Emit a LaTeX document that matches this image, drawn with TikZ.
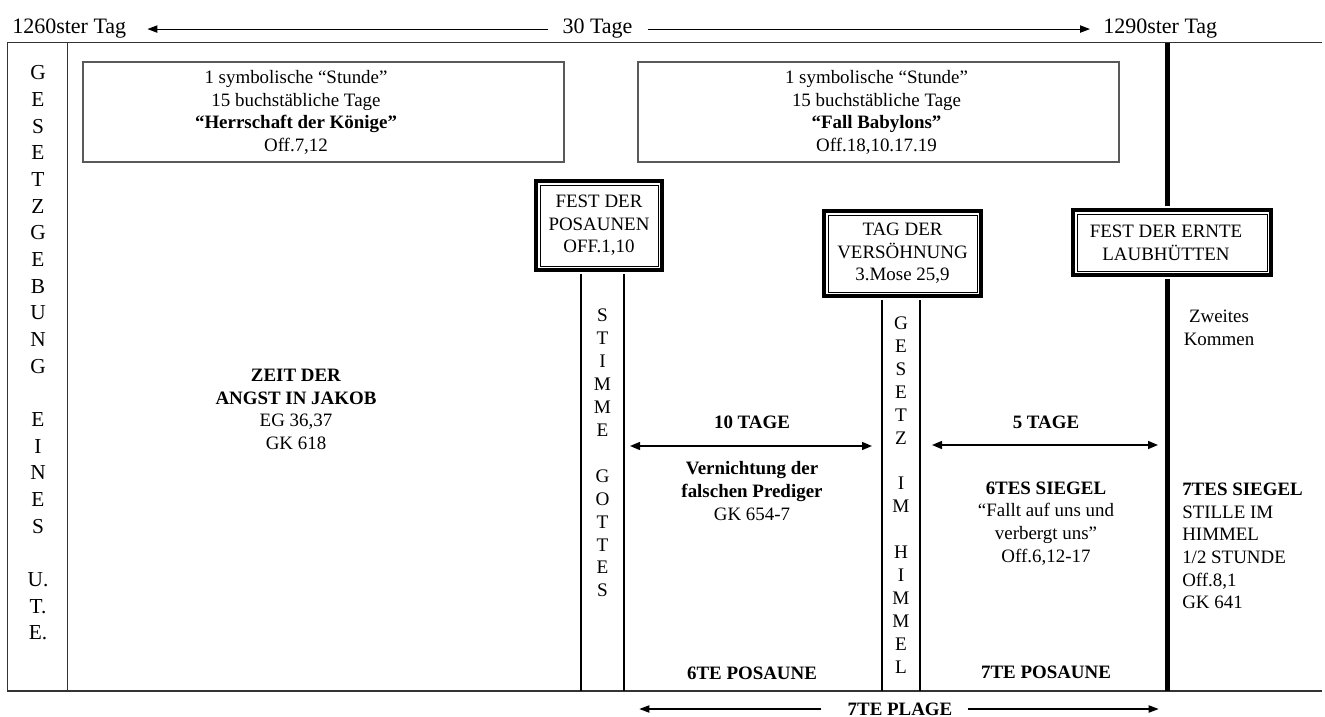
\documentclass[tikz,border=0pt]{standalone}
\usepackage{fontspec}
\setmainfont{Liberation Serif}
\usetikzlibrary{arrows.meta,calc}
\newcommand\pxu{0.75pt}
\begin{document}
\begin{tikzpicture}[x=0.75pt,y=-0.75pt,
  txt/.style={inner sep=0pt, align=center, font=\fontsize{14.2}{17}\selectfont},
  hdr/.style={inner sep=0pt, font=\fontsize{16.5}{20}\selectfont},
  colfont/.style={inner sep=0pt, align=center, font=\fontsize{16}{20}\selectfont},
  stemfont/.style={inner sep=0pt, align=center, font=\fontsize{14.4}{17.2}\selectfont},
  rulel/.style={line width=1.1pt, black!80},
  sbox/.style={draw=black!65, line width=0.9pt, inner sep=0pt},
  fest/.style={draw, line width=3pt, inner sep=0pt, align=center, font=\fontsize{14.2}{17}\selectfont},
  innerbox/.style={line width=0.75pt},
  stemln/.style={line width=1.1pt},
  thickln/.style={line width=3.75pt},
  darrow/.style={line width=1.1pt, {Triangle[length=7.5pt,width=6pt]}-{Triangle[length=7.5pt,width=6pt]}},
  sarrow/.style={line width=0.8pt, -{Triangle[length=7.5pt,width=5.5pt]}}
]
\useasboundingbox (0,0) rectangle (1325,717);

% header
\node[hdr, anchor=base west] (d1260) at (12,34) {1260ster Tag};
\node[hdr, anchor=base] (t30) at (597.5,34) {30 Tage};
\node[hdr, anchor=base west] (d1290) at (1103,34) {1290ster Tag};
\draw[sarrow] ([xshift=-14*\pxu]t30.west) -- ([xshift=21*\pxu]d1260.east);
\draw[sarrow] ([xshift=15*\pxu]t30.east) -- ([xshift=-13*\pxu]d1290.west);

% frame lines
\coordinate (tl) at (7,42.7);
\coordinate (tr) at (1322,42.7);
\coordinate (bl) at (7,691);
\coordinate (br) at (1322,691);
\draw[rulel] (tl) -- (tr);
\draw[rulel] (bl) -- (br);
\coordinate (c1) at (7.5,0);
\coordinate (c2) at (67.5,0);
\draw[rulel] (c1 |- tl) -- (c1 |- bl);
\draw[rulel] (c2 |- tl) -- (c2 |- bl);

% left column
\node[colfont] (lcol) at (38,353) {G\\E\\S\\E\\T\\Z\\G\\E\\B\\U\\N\\G\\\mbox{}\\E\\I\\N\\E\\S\\\mbox{}\\U.\\T.\\E.};

% top boxes
\node[sbox, minimum width=481*\pxu, minimum height=100*\pxu] (box1) at (323.5,112) {};
\node[txt] (box1t) at (296,112.5) {1 symbolische “Stunde”\\15 buchstäbliche Tage\\\textbf{“Herrschaft der Könige”}\\Off.7,12};
\node[sbox, minimum width=481*\pxu, minimum height=100*\pxu] (box2) at (878.5,112) {};
\node[txt] (box2t) at (876.5,112.5) {1 symbolische “Stunde”\\15 buchstäbliche Tage\\\textbf{“Fall Babylons”}\\Off.18,10.17.19};

% feast boxes
\node[fest, minimum width=126*\pxu, minimum height=89*\pxu] (posaunen) at (599,225.5) {FEST DER\\POSAUNEN\\OFF.1,10};
\draw[innerbox] ($(posaunen.north west)+(6,6)$) rectangle ($(posaunen.south east)+(-6,-6)$);
\node[fest, minimum width=157*\pxu, minimum height=85*\pxu] (tag) at (902.5,253.5) {TAG DER\\VERSÖHNUNG\\3.Mose 25,9};
\draw[innerbox] ($(tag.north west)+(6,6)$) rectangle ($(tag.south east)+(-6,-6)$);
\node[fest, minimum width=198*\pxu, minimum height=65*\pxu] (ernte) at (1172,242.5) {FEST DER ERNTE\hspace*{9pt}\\LAUBHÜTTEN\hspace*{9pt}};
\draw[innerbox] ($(ernte.north west)+(6,6)$) rectangle ($(ernte.south east)+(-6,-6)$);

% stems
\coordinate (s1l) at (581,0);
\coordinate (s1r) at (624,0);
\coordinate (s2l) at (882,0);
\coordinate (s2r) at (920,0);
\draw[stemln] ([yshift=-1.5pt]posaunen.south -| s1l) -- (s1l |- bl);
\draw[stemln] ([yshift=-1.5pt]posaunen.south -| s1r) -- (s1r |- bl);
\draw[stemln] ([yshift=-1.5pt]tag.south -| s2l) -- (s2l |- bl);
\draw[stemln] ([yshift=-1.5pt]tag.south -| s2r) -- (s2r |- bl);
\node[stemfont] (stimme) at (602.5,453) {S\\T\\I\\M\\M\\E\\\mbox{}\\G\\O\\T\\T\\E\\S};
\node[stemfont] (himmel) at (901,495) {G\\E\\S\\E\\T\\Z\\\mbox{}\\I\\M\\\mbox{}\\H\\I\\M\\M\\E\\L};

% thick line
\coordinate (tk) at (1167.5,0);
\draw[thickln] (tk |- tl) -- ([yshift=1.5pt]ernte.north -| tk);
\draw[thickln] ([yshift=-1.5pt]ernte.south -| tk) -- (tk |- bl);

% region texts
\node[txt] (zeit) at (296,409.5) {\textbf{ZEIT DER}\\\textbf{ANGST IN JAKOB}\\EG 36,37\\GK 618};
\node[txt] (t10) at (752,422) {\textbf{10 TAGE}};
\coordinate (a10l) at (630,446);
\coordinate (a10r) at (872,446);
\draw[darrow] (a10l) -- (a10r);
\node[txt] (vern) at (752,491) {\textbf{Vernichtung der}\\\textbf{falschen Prediger}\\GK 654-7};
\node[txt] (pos6) at (752,673) {\textbf{6TE POSAUNE}};

\node[txt] (t5) at (1046,422) {\textbf{5 TAGE}};
\coordinate (a5l) at (932,445);
\coordinate (a5r) at (1158,445);
\draw[darrow] (a5l) -- (a5r);
\node[txt] (sieg6) at (1046,523.5) {\textbf{6TES SIEGEL}\\“Fallt auf uns und\\verbergt uns”\\Off.6,12-17};
\node[txt] (pos7) at (1046,672) {\textbf{7TE POSAUNE}};

\node[txt] (zweit) at (1219,327.5) {Zweites\\Kommen};
\node[txt, align=left, anchor=west] (sieg7) at (1182,546) {\textbf{7TES SIEGEL}\\STILLE IM\\HIMMEL\\1/2 STUNDE\\Off.8,1\\GK 641};

% bottom plague arrow
\node[txt] (plage) at (900,709) {\textbf{7TE PLAGE}};
\draw[sarrow] ([xshift=-26*\pxu]plage.west) -- ([xshift=-208*\pxu]plage.west);
\draw[sarrow] ([xshift=15*\pxu]plage.east) -- ([xshift=206*\pxu]plage.east);
\end{tikzpicture}
\end{document}
